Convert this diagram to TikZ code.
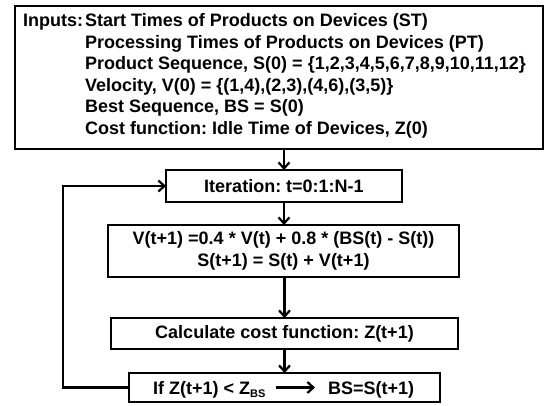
\documentclass[tikz,border=0pt]{standalone}
\usepackage{fontspec}
\setmainfont{Liberation Sans}
\usetikzlibrary{arrows.meta}
\frenchspacing
\begin{document}
\begin{tikzpicture}[x=1pt,y=-1pt,
  font=\fontsize{18}{21.5}\selectfont\bfseries,
  box/.style={draw, line width=2.5pt, inner sep=0pt, outer sep=0pt},
  line/.style={anchor=base west, inner sep=0pt},
  flow/.style={line width=2.2pt, -{Straight Barb[length=6pt,width=11pt,line width=2.2pt]}}]
  \useasboundingbox (0,0) rectangle (547,405);

  % input block
  \node[box, minimum width=528pt, minimum height=143pt] (inp) at (279,77.5) {};
  \node[line] (lab) at (23,26.5) {Inputs:};
  \node[line] (l1) at (85,26.5) {Start Times of Products on Devices (ST)};
  \node[line] (l2) at (85,48) {Processing Times of Products on Devices (PT)};
  \node[line] (l3) at (85,69.5) {Product Sequence, S(0) = \{1,2,3,4,5,6,7,8,9,10,11,12\}};
  \node[line] (l4) at (85,91) {Velocity, V(0) = \{(1,4),(2,3),(4,6),(3,5)\}};
  \node[line] (l5) at (85,112.5) {Best Sequence, BS = S(0)};
  \node[line] (l6) at (85,134) {Cost function: Idle Time of Devices, Z(0)};

  % loop body
  \node[box, minimum width=236pt, minimum height=32pt] (iter) at (284,186) {Iteration: t=0:1:N-1};
  \node[box, minimum width=351pt, minimum height=52pt, align=center] (upd) at (283.5,251)
    {V(t+1) =0.4 * V(t) + 0.8 * (BS(t) - S(t))\\S(t+1) = S(t) + V(t+1)};
  \node[box, minimum width=347pt, minimum height=31pt] (cost) at (284.5,333.5) {Calculate cost function: Z(t+1)};
  \node[box, minimum width=311pt, minimum height=29pt] (cmp) at (284.5,387.5) {};
  \node[line] (cond) at (153,394) {If Z(t+1) < Z\raisebox{-0.35ex}{\fontsize{11}{11}\selectfont BS}};
  \node[line] (upbs) at (328,394) {BS=S(t+1)};

  % connectors
  \draw[flow] (inp.south -| iter.north) -- (iter.north);
  \draw[flow] (iter.south) -- (iter.south |- upd.north);
  \draw[flow] (upd.south -| cost.north) -- (cost.north);
  \draw[flow] (cost.south) -- (cost.south |- cmp.north);
  \draw[flow] ([xshift=10pt]cond.east |- cmp.center) -- ([xshift=-13pt]upbs.west |- cmp.center);
  \coordinate (back) at (63,0);
  \draw[flow] (cmp.west) -- (back |- cmp.west) -- (back |- iter.west) -- (iter.west);
\end{tikzpicture}
\end{document}
